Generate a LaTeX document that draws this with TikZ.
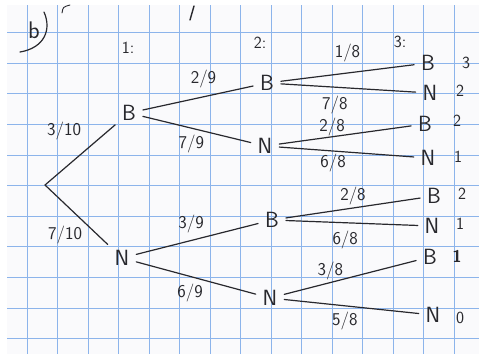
\documentclass[tikz,border=0pt]{standalone}
\usepackage{tikz}
\usetikzlibrary{positioning}
\definecolor{ink}{RGB}{40,40,45}
\definecolor{gridblue}{RGB}{140,180,235}
\definecolor{paper}{RGB}{250,250,252}

\begin{document}
\begin{tikzpicture}[x=1pt,y=-1pt,
    outcome/.style={font=\sffamily\fontsize{22}{22}\selectfont,text=ink,inner sep=2pt,outer sep=5pt},
    prob/.style={font=\sffamily\fontsize{18}{18}\selectfont,text=ink,inner sep=0pt},
    count/.style={font=\sffamily\fontsize{17}{17}\selectfont,text=ink,inner sep=0pt},
    branch/.style={draw=ink,line width=1.2pt,line cap=round}
  ]
    \useasboundingbox (0,0) rectangle (479,354);
    \fill[paper] (7,5) rectangle (479,354);
    % squared paper
    \foreach \i in {0,...,14}
      \draw[gridblue,line width=0.9pt] ({27+30.5*\i},5) -- ({27+30.5*\i},354);
    \foreach \j in {1,...,11}
      \draw[gridblue,line width=0.9pt] (7,{2+30.6*\j}) -- (479,{2+30.6*\j});

    % heading
    \node[outcome,font=\sffamily\fontsize{24}{24}\selectfont] (part) at (34,30) {b};
    \draw[branch] (44,12) .. controls (52,30) and (44,48) .. (20,52);
    \draw[branch,line width=0.9pt] (62,13) .. controls (63,7) .. (70,5);
    \draw[branch,line width=1.4pt] (194,6) -- (190,20);
    \node[count] (step1) at (128,48) {1:};
    \node[count] (step2) at (260,43) {2:};
    \node[count] (step3) at (400,42) {3:};

    % tree
    \coordinate (root) at (45,185);
    \node[outcome] (b1) at (129,113) {B};
    \node[outcome] (n1) at (122,258) {N};
    \node[outcome] (bb) at (267,83) {B};
    \node[outcome] (bn) at (265,146) {N};
    \node[outcome] (nb) at (272,220) {B};
    \node[outcome] (nn) at (270,298) {N};
    \node[outcome] (bbb) at (428,63) {B};
    \node[outcome] (bbn) at (430,93) {N};
    \node[outcome] (bnb) at (425,124) {B};
    \node[outcome] (bnn) at (428,158) {N};
    \node[outcome] (nbb) at (434,196) {B};
    \node[outcome] (nbn) at (432,226) {N};
    \node[outcome] (nnb) at (430,257) {B};
    \node[outcome] (nnn) at (433,315) {N};

    \draw[branch] (root) -- node[prob,pos=.55,above left=11pt and 2pt]{3/10} (b1);
    \draw[branch] (root) -- node[prob,pos=.6,below left=5pt and 0pt]{7/10} (n1);
    \draw[branch] (b1) -- node[prob,pos=.55,above=8pt]{2/9} (bb);
    \draw[branch] (b1) -- node[prob,pos=.45,below=6pt]{7/9} (bn);
    \draw[branch] (bb) -- node[prob,pos=.5,above=10pt]{1/8} (bbb);
    \draw[branch] (bb) -- node[prob,pos=.4,below=8pt]{7/8} (bbn);
    \draw[branch] (bn) -- node[prob,pos=.4,above=0pt]{2/8} (bnb);
    \draw[branch] (bn) -- node[prob,pos=.4,below=2pt]{6/8} (bnn);
    \draw[branch] (n1) -- node[prob,pos=.45,above=7pt]{3/9} (nb);
    \draw[branch] (n1) -- node[prob,pos=.45,below=7pt]{6/9} (nn);
    \draw[branch] (nb) -- node[prob,pos=.5,above=2pt]{2/8} (nbb);
    \draw[branch] (nb) -- node[prob,pos=.45,below=8pt]{6/8} (nbn);
    \draw[branch] (nn) -- node[prob,pos=.35,above=2pt]{3/8} (nnb);
    \draw[branch] (nn) -- node[prob,pos=.45,below=6pt]{5/8} (nnn);

    % counts
    \node[count] (cbbb) at (466,63) {3};
    \node[count] (cbbn) at (460,91) {2};
    \node[count] (cbnb) at (457,121) {2};
    \node[count] (cbnn) at (458,157) {1};
    \node[count] (cnbb) at (462,194) {2};
    \node[count] (cnbn) at (460,224) {1};
    \node[count,font=\sffamily\bfseries\fontsize{17}{17}\selectfont] (cnnb) at (457,256) {1};
    \node[count] (cnnn) at (460,318) {0};
\end{tikzpicture}
\end{document}
